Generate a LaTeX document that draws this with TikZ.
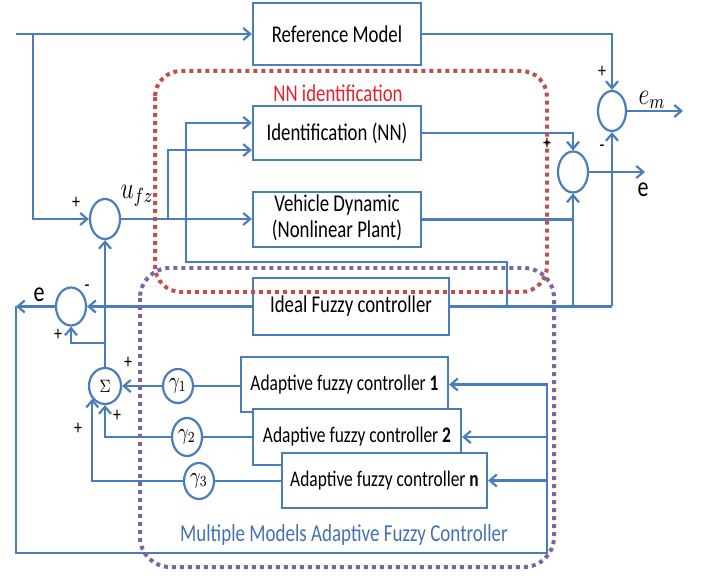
\documentclass[tikz,border=0pt]{standalone}
\usepackage{fontspec}
\setmainfont{Carlito}
\usepackage{graphicx}
\usetikzlibrary{shapes.geometric,arrows.meta,calc}
\definecolor{lb}{HTML}{4A7EBB}
\definecolor{rd}{HTML}{C0504D}
\definecolor{pu}{HTML}{8064A2}
\definecolor{tb}{HTML}{4472AE}
\definecolor{nnred}{HTML}{E8202A}
\newcommand{\vst}[1]{\scalebox{1}[1.28]{#1}}
\newcommand{\fsz}[1]{\fontsize{#1}{10}\selectfont}
\begin{document}
\begin{tikzpicture}[x=0.5pt,y=-0.5pt,
  blk/.style={draw=lb, line width=1.1pt, fill=white, inner sep=0pt, font=\fsz{9.4}},
  adf/.style={font=\fsz{8.7}},
  sm/.style={ellipse, draw=lb, line width=1.1pt, fill=white, inner sep=0pt, minimum width=15pt, minimum height=20pt},
  ln/.style={draw=lb, line width=1.1pt},
  arr/.style={draw=lb, line width=1.1pt, -{Straight Barb[length=3.5pt,width=6pt]}},
  dotbox/.style={line width=2pt, dash pattern=on 2pt off 2pt, rounded corners=13pt},
  lab/.style={inner sep=0pt, font=\fsz{8}}]
\useasboundingbox (0,0) rectangle (713,577);

% blocks
\node[blk, minimum width=84pt, minimum height=31pt] (ref) at (337,34) {\vst{Reference Model}};
\node[blk, minimum width=84pt, minimum height=27pt] (ident) at (337,133) {\vst{Identification (NN)}};
\node[blk, minimum width=84pt, minimum height=27.5pt] (plant) at (337,219.5) {\vst{\begin{tabular}{@{}c@{}}Vehicle Dynamic\\(Nonlinear Plant)\end{tabular}}};
\node[blk, minimum width=98pt, minimum height=28.5pt] (ideal) at (351,306.5) {\vst{Ideal Fuzzy controller}};
\node[blk, adf, minimum width=103.5pt, minimum height=27.5pt] (ad1) at (344.5,384.5) {\vst{Adaptive fuzzy controller \textbf{1}}};
\node[blk, adf, minimum width=104pt, minimum height=28pt] (ad2) at (357,437) {\vst{Adaptive fuzzy controller \textbf{2}}};
\node[blk, adf, minimum width=102.5pt, minimum height=27.5pt] (adn) at (384.5,480.5) {\vst{Adaptive fuzzy controller \textbf{n}}};

% summing junctions and gains
\node[sm] (s1) at (105,219) {};
\node[sm, minimum width=14pt] (em) at (612,111) {};
\node[sm, minimum height=20.5pt] (es) at (573,172) {};
\node[sm, minimum height=19pt] (ee) at (71,306.5) {};
\node[sm, minimum width=16pt, minimum height=18pt] (sig) at (105,386) {\fsz{7}\vst{$\Sigma$}};
\node[sm, minimum height=17pt] (g1) at (178,386) {\fsz{9}\vst{$\gamma_1$}};
\node[sm, minimum height=19pt] (g2) at (187,437) {\fsz{9}\vst{$\gamma_2$}};
\node[sm, minimum height=18pt] (g3) at (199,481) {\fsz{9}\vst{$\gamma_3$}};

% free ends and junctions
\coordinate (in0) at (16,34);
\coordinate (j1) at (33,34);
\coordinate (j2) at (168,219);
\coordinate (k186) at (186,262);
\coordinate (k507) at (507,306.5);
\coordinate (k573) at (573,306.5);
\coordinate (k612) at (612,306.5);
\coordinate (eo) at (16,306.5);
\coordinate (kb) at (547,553);
\coordinate (j3) at (105,343);
\coordinate (emo) at (683,111);
\coordinate (eso) at (645,172);

% connectors
\draw[arr] (in0) -- (ref.west);
\draw[arr] (j1) |- (s1.west);
\draw[arr] (s1.east) -- (s1.east -| plant.west);
\draw[arr] (j2) |- ($(ident.south west)+(0,-11)$);
\draw[arr] (k507) |- (k186) |- ($(ident.north west)+(0,18)$);
\draw[arr] (ident.east) -| (es.north);
\draw[ln] (plant.east) -- (plant.east -| es.south);
\draw[arr] (k573) -- (es.south);
\draw[arr] (ref.east) -| (em.north);
\draw[ln] (ideal.east) -- (k612);
\draw[arr] (k612) -- (em.south);
\draw[arr] (em.east) -- (emo);
\draw[arr] (es.east) -- (eso);
\draw[arr] (ideal.west) -- (ee.east);
\draw[arr] (ee.west) -- (eo);
\draw[arr] (eo) |- (kb) |- (ad1.east);
\draw[arr] (kb |- ad2.east) -- (ad2.east);
\draw[arr] (kb |- adn.east) -- (adn.east);
\draw[arr] (sig.north) -- (s1.south);
\draw[arr] (j3) -| (ee.south);
\draw[ln] (g1.east) -- (g1.east -| ad1.west);
\draw[arr] (g1.west) -- (sig.east);
\draw[ln] (g2.east) -- (g2.east -| ad2.west);
\draw[arr] (g2.west) -| (sig.south);
\draw[ln] (g3.east) -- (g3.east -| adn.west);
\draw[arr] (g3.west) -| (sig.225);

% dotted groupings
\draw[rd, dotbox] (155,71) rectangle (547,292);
\draw[pu, dotbox, rounded corners=15pt] (140,268) rectangle (554,567);

% texts
\node[text=nnred, font=\fsz{9.4}, inner sep=0pt] (nnl) at (338,93) {\vst{NN identification}};
\node[text=tb, font=\fsz{9.5}, inner sep=0pt] (mml) at (344,535) {\vst{Multiple Models Adaptive Fuzzy Controller}};
\node[lab, font=\fsz{12}] (ufz) at (137,196) {\vst{$u_{fz}$}};
\node[lab, font=\fsz{12}] (lem) at (652,100) {\vst{$e_m$}};
\node[lab, font=\fsz{11}] (le1) at (643,190) {\vst{e}};
\node[lab, font=\fsz{11}] (le2) at (39,295) {\vst{e}};
\node[lab] (p1) at (76,203) {\vst{+}};
\node[lab] (p2) at (602,72) {\vst{+}};
\node[lab] (m1) at (602,148) {\vst{-}};
\node[lab] (p3) at (547,144) {\vst{+}};
\node[lab] (m2) at (87,288) {\vst{-}};
\node[lab] (p4) at (58,335) {\vst{+}};
\node[lab] (p5) at (128,363) {\vst{+}};
\node[lab] (p6) at (117,416) {\vst{+}};
\node[lab] (p7) at (78,429) {\vst{+}};
\end{tikzpicture}
\end{document}
